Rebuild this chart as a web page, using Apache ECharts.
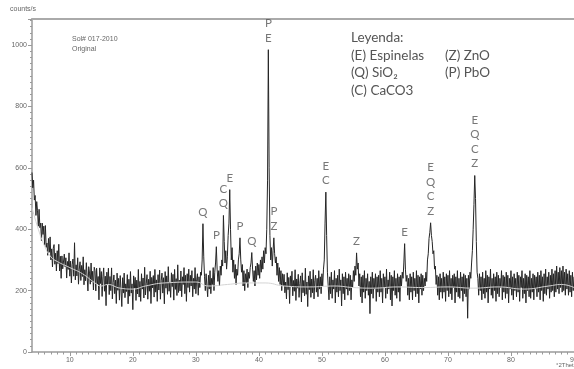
<!DOCTYPE html>
<html>
<head>
<meta charset="utf-8">
<script src="https://cdn.jsdelivr.net/npm/echarts@6/dist/echarts.min.js"></script>
<style>
  html, body { margin: 0; padding: 0; background: #fff; }
  #chart { width: 574px; height: 369px; }
</style>
</head>
<body>
<div id="chart"></div>
<script>
// scan: 4 .. 90 deg 2theta, one reading every 0.125 deg
var thetaStart = 4;
var thetaStep = 0.125;
var counts = [
  // 4 - 8.875
  585, 535, 560, 495, 510, 445, 490, 460, 410, 465, 405, 420, 362, 420, 383, 410, 348, 412, 341, 355,
  315, 370, 325, 375, 300, 336, 277, 338, 350, 286, 322, 264, 330, 288, 351, 264, 312, 240, 313, 271,
  // 9 - 13.875
  265, 319, 278, 307, 241, 295, 269, 323, 247, 296, 225, 284, 303, 247, 356, 235, 284, 248, 307, 221,
  270, 294, 233, 282, 246, 310, 219, 268, 232, 291, 245, 199, 278, 257, 221, 290, 229, 263, 202, 276,
  // 14 - 18.875
  265, 199, 273, 222, 246, 170, 274, 223, 262, 181, 245, 274, 198, 247, 151, 260, 219, 273, 187, 246,
  200, 274, 173, 227, 251, 190, 234, 158, 257, 201, 240, 169, 249, 203, 148, 242, 192, 257, 177, 222,
  // 19 - 23.875
  197, 252, 157, 237, 182, 262, 192, 222, 138, 248, 208, 243, 168, 234, 189, 269, 179, 230, 165, 255,
  205, 241, 176, 276, 186, 222, 252, 172, 237, 198, 263, 158, 243, 209, 249, 179, 269, 195, 235, 165,
  // 24 - 28.875
  252, 202, 267, 172, 232, 257, 192, 242, 157, 262, 208, 248, 188, 278, 198, 228, 178, 258, 213, 253,
  169, 269, 204, 239, 184, 284, 194, 234, 199, 264, 180, 245, 220, 275, 190, 250, 165, 255, 210, 270,
  // 29 - 33.875
  195, 250, 215, 265, 180, 240, 205, 275, 190, 235, 255, 185, 245, 210, 260, 250, 300, 418, 310, 245,
  200, 255, 215, 180, 250, 205, 265, 190, 240, 220, 275, 200, 260, 290, 343, 270, 230, 265, 215, 280,
  // 34 - 38.875
  250, 300, 280, 445, 360, 290, 330, 270, 310, 380, 420, 529, 400, 300, 340, 260, 300, 240, 285, 220,
  270, 250, 300, 320, 372, 300, 260, 285, 215, 265, 200, 255, 225, 270, 210, 260, 240, 275, 290, 324,
  // 39 - 43.875
  270, 230, 265, 215, 280, 235, 290, 250, 285, 240, 300, 260, 310, 270, 330, 290, 340, 320, 400, 560,
  985, 600, 380, 300, 340, 280, 330, 372, 320, 290, 310, 250, 290, 230, 275, 220, 265, 200, 255, 215,
  // 44 - 48.875
  253, 193, 228, 173, 258, 203, 243, 158, 248, 213, 263, 183, 233, 198, 268, 168, 238, 208, 253, 178,
  223, 248, 163, 258, 193, 233, 183, 273, 188, 228, 148, 248, 203, 263, 178, 238, 193, 268, 173, 233,
  // 49 - 53.875
  250, 195, 240, 180, 265, 205, 245, 190, 255, 215, 270, 300, 420, 521, 380, 260, 215, 170, 245, 190,
  260, 175, 235, 205, 265, 160, 240, 195, 250, 180, 270, 200, 235, 150, 255, 190, 245, 170, 260, 205,
  // 54 - 58.875
  240, 185, 255, 200, 250, 170, 235, 210, 265, 230, 280, 250, 323, 270, 290, 215, 255, 180, 245, 160,
  250, 195, 265, 175, 240, 200, 255, 185, 230, 125, 245, 190, 260, 175, 240, 205, 255, 165, 245, 195,
  // 59 - 63.875
  250, 180, 265, 195, 240, 160, 255, 210, 245, 175, 270, 190, 235, 205, 260, 170, 250, 150, 245, 200,
  265, 185, 240, 175, 255, 195, 245, 165, 250, 215, 260, 240, 290, 353, 270, 230, 250, 185, 240, 170,
  // 64 - 68.875
  255, 195, 245, 170, 260, 200, 240, 180, 265, 190, 250, 160, 245, 205, 255, 185, 250, 200, 240, 215,
  260, 230, 300, 320, 370, 390, 421, 380, 360, 320, 330, 270, 280, 220, 250, 185, 245, 170, 255, 195,
  // 69 - 73.875
  240, 175, 260, 195, 245, 165, 255, 200, 250, 180, 265, 190, 240, 170, 250, 210, 255, 160, 245, 195,
  265, 180, 240, 175, 260, 200, 245, 165, 255, 190, 250, 180, 240, 110, 250, 205, 260, 240, 290, 330,
  // 74 - 78.875
  400, 480, 575, 500, 360, 260, 240, 185, 255, 200, 245, 170, 260, 190, 240, 175, 265, 195, 250, 160,
  245, 205, 270, 185, 240, 175, 255, 200, 245, 165, 260, 190, 250, 180, 240, 210, 265, 170, 250, 195,
  // 79 - 83.875
  245, 175, 260, 190, 250, 160, 240, 205, 265, 185, 245, 170, 255, 200, 240, 180, 260, 195, 250, 165,
  245, 210, 265, 175, 240, 190, 255, 160, 250, 200, 245, 180, 265, 175, 240, 195, 255, 170, 250, 205,
  // 84 - 88.875
  245, 180, 260, 195, 250, 170, 265, 200, 245, 165, 255, 190, 270, 185, 245, 205, 260, 175, 250, 195,
  270, 200, 255, 180, 265, 195, 280, 205, 260, 190, 275, 210, 265, 195, 280, 200, 260, 185, 270, 205,
  // 89 - 90
  255, 185, 265, 195, 250, 180, 260, 200, 245
];

// smoothed background line
var bgTheta = [4, 5, 6, 7, 8, 10, 12, 14, 15, 16, 18, 20, 22, 25, 30, 32, 35, 38, 41, 44, 48, 52, 55, 58, 62, 66, 70, 74, 78, 82, 86, 88, 90];
var bgCounts = [470, 400, 345, 310, 295, 275, 255, 225, 215, 220, 208, 205, 215, 225, 228, 215, 220, 225, 225, 215, 212, 215, 210, 208, 212, 210, 212, 208, 212, 205, 215, 220, 210];

// identified peaks
var peakTheta = [31.125, 33.25, 34.375, 35.375, 37.0, 38.875, 41.5, 42.375, 50.625, 55.5, 63.125, 67.25, 74.25];
var peakCounts = [418, 343, 445, 529, 372, 324, 985, 372, 521, 323, 353, 421, 575];
var peakPhases = ['Q', 'P', 'C\nQ', 'E', 'P', 'Q', 'P\nE', 'P\nZ', 'E\nC', 'Z', 'E', 'E\nQ\nC\nZ', 'E\nQ\nC\nZ'];

var majorTicks = [10, 20, 30, 40, 50, 60, 70, 80, 90];

var scan = [];
for (var i = 0; i < counts.length; i++) {
  scan.push([thetaStart + i * thetaStep, counts[i]]);
}
var bg = [];
for (var i = 0; i < bgTheta.length; i++) {
  bg.push([bgTheta[i], bgCounts[i]]);
}
var peaks = [];
for (var i = 0; i < peakTheta.length; i++) {
  peaks.push({ value: [peakTheta[i], peakCounts[i]], phase: peakPhases[i] });
}
var minorTicks = [];
for (var t = 5; t <= 90; t++) minorTicks.push(t);

var axisGray = '#9a9a9a';
var labelFont = 'Lato';

var myChart = echarts.init(document.getElementById('chart'));

function legendText(x, y, s) {
  return { type: 'text', left: x, top: y, style: { text: s, fontSize: 13.5, fontFamily: labelFont, fill: '#555' } };
}

var option = {
  animation: false,
  grid: { left: 32, right: 0, top: 19, bottom: 17, outerBoundsMode: 'none' },
  xAxis: [
    {
      type: 'value', min: 4, max: 90,
      axisLine: { lineStyle: { color: axisGray, width: 1.5 } },
      axisTick: { customValues: majorTicks, length: 4, lineStyle: { color: axisGray } },
      axisLabel: { customValues: majorTicks, fontSize: 7, color: '#666', margin: 5, alignMaxLabel: 'center' },
      splitLine: { show: false }
    },
    {
      type: 'value', min: 4, max: 90, position: 'bottom',
      axisLine: { show: false },
      axisTick: { customValues: minorTicks, length: 2.5, lineStyle: { color: axisGray } },
      axisLabel: { show: false },
      splitLine: { show: false }
    },
    {
      type: 'value', min: 4, max: 90, position: 'top',
      axisLine: { lineStyle: { color: '#aaa', width: 2 } },
      axisTick: { show: false },
      axisLabel: { show: false },
      splitLine: { show: false }
    }
  ],
  yAxis: {
    type: 'value', min: 0, max: 1085, interval: 200,
    axisLine: { show: true, lineStyle: { color: axisGray, width: 1.5 } },
    axisTick: { show: true, length: 4, lineStyle: { color: axisGray } },
    minorTick: { show: true, splitNumber: 10, length: 2, lineStyle: { color: axisGray } },
    axisLabel: {
      fontSize: 7, color: '#666', margin: 5, showMaxLabel: false,
      formatter: function (v) { return String(v); }
    },
    splitLine: { show: false }
  },
  series: [
    {
      name: 'scan',
      type: 'line',
      data: scan,
      symbol: 'none',
      lineStyle: { color: '#262626', width: 1 }
    },
    {
      name: 'background',
      type: 'line',
      data: bg,
      symbol: 'none',
      smooth: true,
      lineStyle: { color: '#d4d4d4', width: 1 }
    },
    {
      name: 'phases',
      type: 'scatter',
      data: peaks,
      symbolSize: 1,
      itemStyle: { color: 'transparent' },
      label: {
        show: true,
        position: 'top',
        distance: 4,
        fontSize: 11.5,
        lineHeight: 14.5,
        color: '#555',
        fontFamily: labelFont,
        formatter: function (p) { return p.data.phase; }
      }
    }
  ],
  graphic: [
    { type: 'text', left: 10, top: 6, style: { text: 'counts/s', fontSize: 7, fill: '#666' } },
    { type: 'text', left: 72, top: 36, style: { text: 'Sol# 017-2010', fontSize: 7, fill: '#666' } },
    { type: 'text', left: 72, top: 46, style: { text: 'Original', fontSize: 7, fill: '#666' } },
    { type: 'text', left: 556, top: 362, style: { text: '°2Theta', fontSize: 6, fill: '#666' } },
    legendText(351, 31, 'Leyenda:'),
    legendText(351, 49, '(E) Espinelas'),
    legendText(351, 66, '(Q) SiO₂'),
    legendText(351, 84, '(C) CaCO3'),
    legendText(445, 49, '(Z) ZnO'),
    legendText(445, 66, '(P) PbO')
  ]
};

myChart.setOption(option);
</script>
</body>
</html>
